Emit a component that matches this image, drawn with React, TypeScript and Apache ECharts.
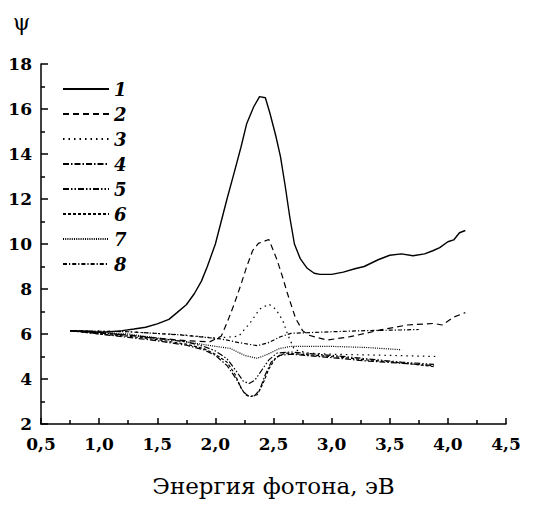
import React, { useEffect, useRef } from "react";
import * as echarts from "echarts";

type Pt = [number, number];

const seriesNames = ["1", "2", "3", "4", "5", "6", "7", "8"];

const curve1: Pt[] = [
  [0.75, 6.15], [0.9, 6.12], [1.0, 6.08], [1.1, 6.1], [1.2, 6.15], [1.3, 6.22], [1.4, 6.3],
  [1.5, 6.45], [1.6, 6.65], [1.67, 6.95], [1.75, 7.3], [1.82, 7.8], [1.88, 8.35], [1.93, 8.99],
  [2.0, 10.0], [2.05, 11.0], [2.1, 12.0], [2.16, 13.14], [2.22, 14.3], [2.27, 15.36],
  [2.33, 16.1], [2.38, 16.55], [2.43, 16.5], [2.47, 15.8], [2.52, 14.8], [2.56, 13.88],
  [2.6, 12.6], [2.64, 11.2], [2.68, 10.0], [2.73, 9.35], [2.79, 8.92], [2.85, 8.7],
  [2.9, 8.65], [3.0, 8.65], [3.1, 8.75], [3.2, 8.9], [3.28, 9.0], [3.4, 9.3], [3.5, 9.5],
  [3.6, 9.56], [3.7, 9.48], [3.8, 9.56], [3.87, 9.7], [3.93, 9.84], [4.0, 10.1],
  [4.05, 10.18], [4.1, 10.5], [4.15, 10.6],
];

const curve2: Pt[] = [
  [0.75, 6.15], [1.0, 6.05], [1.25, 5.95], [1.5, 5.82], [1.75, 5.7], [1.95, 5.65],
  [2.05, 5.9], [2.1, 6.5], [2.16, 7.3], [2.22, 8.2], [2.27, 9.0], [2.32, 9.7], [2.37, 10.03],
  [2.46, 10.2], [2.53, 9.3], [2.58, 8.5], [2.62, 7.8], [2.69, 6.7], [2.75, 6.15],
  [2.8, 5.95], [2.96, 5.73], [3.16, 5.88], [3.42, 6.18], [3.65, 6.4], [3.88, 6.47],
  [3.95, 6.4], [4.05, 6.75], [4.15, 6.95],
];

const curve3: Pt[] = [
  [0.75, 6.15], [1.25, 6.1], [1.75, 5.95], [2.0, 5.82], [2.2, 5.9], [2.3, 6.5],
  [2.38, 7.1], [2.46, 7.33], [2.52, 7.1], [2.58, 6.6], [2.62, 6.0], [2.68, 5.3],
  [2.8, 5.15], [3.0, 5.1], [3.5, 5.05], [3.9, 5.0],
];

const curve4: Pt[] = [
  [0.75, 6.15], [1.0, 6.0], [1.25, 5.85], [1.5, 5.7], [1.75, 5.5], [1.9, 5.3], [2.0, 5.05],
  [2.1, 4.6], [2.18, 4.0], [2.24, 3.45], [2.28, 3.25], [2.33, 3.22], [2.38, 3.5],
  [2.43, 4.2], [2.48, 4.75], [2.55, 5.05], [2.65, 5.1], [3.0, 4.95], [3.3, 4.8],
  [3.6, 4.7], [3.88, 4.6],
];

const curve5: Pt[] = [
  [0.75, 6.15], [1.0, 6.05], [1.25, 5.95], [1.5, 5.8], [1.75, 5.65], [1.9, 5.45], [2.0, 5.25],
  [2.1, 4.9], [2.18, 4.35], [2.24, 3.9], [2.29, 3.8], [2.34, 3.95], [2.4, 4.4],
  [2.46, 4.85], [2.53, 5.15], [2.65, 5.2], [3.0, 5.05], [3.3, 4.9], [3.6, 4.75], [3.88, 4.65],
];

const curve6: Pt[] = [
  [0.75, 6.15], [1.0, 6.0], [1.25, 5.9], [1.5, 5.75], [1.75, 5.55], [1.9, 5.35], [2.0, 5.1],
  [2.1, 4.75], [2.17, 4.2], [2.22, 3.6], [2.26, 3.3], [2.3, 3.22], [2.36, 3.3], [2.41, 3.8],
  [2.46, 4.45], [2.52, 4.95], [2.6, 5.15], [3.0, 5.0], [3.3, 4.85], [3.6, 4.72], [3.88, 4.55],
];

const curve7: Pt[] = [
  [0.75, 6.15], [1.25, 6.0], [1.75, 5.65], [2.0, 5.45], [2.13, 5.36], [2.25, 5.05],
  [2.36, 4.92], [2.45, 5.1], [2.55, 5.35], [2.65, 5.45], [3.0, 5.45], [3.3, 5.4], [3.6, 5.3],
];

const curve8: Pt[] = [
  [0.75, 6.15], [1.25, 6.1], [1.7, 5.96], [2.05, 5.78], [2.2, 5.62], [2.36, 5.48],
  [2.45, 5.6], [2.56, 5.88], [2.65, 6.03], [3.0, 6.1], [3.3, 6.15], [3.6, 6.18], [3.75, 6.2],
];

const curves: Pt[][] = [curve1, curve2, curve3, curve4, curve5, curve6, curve7, curve8];

const dashes: (number[] | "solid")[] = [
  "solid",
  [6, 4],
  [1.5, 4],
  [6, 2, 1.5, 2],
  [6, 2, 1.5, 2, 1.5, 2],
  [3, 2],
  [1, 1.2],
  [4, 2, 1.2, 2],
];

const xTicks = { min: 0.5, max: 4.5, interval: 0.5 };
const yTicks = { min: 2, max: 18, interval: 2 };

const serif = "DejaVu Serif";

export default function App() {
  const ref = useRef<HTMLDivElement>(null);
  useEffect(() => {
    if (!ref.current) return;
    const chart = echarts.init(ref.current, undefined, { renderer: "svg" });
    const fmt = (v: number) => v.toFixed(1).replace(".", ",");
    chart.setOption({
      animation: false,
      backgroundColor: "#ffffff",
      grid: { left: 41, right: 37, top: 64, bottom: 83, containLabel: false },
      legend: {
        orient: "vertical",
        left: 62,
        top: 80,
        padding: 0,
        itemWidth: 46,
        itemHeight: 14,
        itemGap: 7,
        data: seriesNames,
        itemStyle: { color: "rgba(0,0,0,0)", borderColor: "rgba(0,0,0,0)", borderWidth: 0, opacity: 0 },
        textStyle: {
          fontFamily: serif,
          fontStyle: "italic",
          fontWeight: "bold",
          fontSize: 18,
          color: "#000",
        },
      },
      xAxis: {
        type: "value",
        min: xTicks.min,
        max: xTicks.max,
        interval: xTicks.interval,
        name: "Энергия фотона, эВ",
        nameLocation: "middle",
        nameGap: 50,
        nameTextStyle: { fontFamily: serif, fontSize: 23, color: "#000" },
        axisLine: { show: true, lineStyle: { color: "#000", width: 1.5 } },
        axisTick: { show: true, inside: true, length: 6, lineStyle: { color: "#000", width: 1.5 } },
        minorTick: { show: true, splitNumber: 2, length: 4, lineStyle: { color: "#000", width: 1.5 } },
        splitLine: { show: false },
        axisLabel: {
          formatter: fmt,
          fontFamily: serif,
          fontWeight: "bold",
          fontSize: 17,
          color: "#000",
          margin: 11,
        },
      },
      yAxis: {
        type: "value",
        min: yTicks.min,
        max: yTicks.max,
        interval: yTicks.interval,
        axisLine: { show: true, lineStyle: { color: "#000", width: 1.5 } },
        axisTick: { show: true, inside: true, length: 7, lineStyle: { color: "#000", width: 1.5 } },
        minorTick: { show: true, splitNumber: 2, length: 4, lineStyle: { color: "#000", width: 1.5 } },
        splitLine: { show: false },
        axisLabel: {
          fontFamily: serif,
          fontWeight: "bold",
          fontSize: 17,
          color: "#000",
          margin: 9,
        },
      },
      graphic: [
        {
          type: "text",
          left: 13,
          top: 11,
          style: { text: "ψ", font: `22px "${serif}"`, fill: "#000" },
        },
      ],
      series: curves.map((c, i) => ({
        name: seriesNames[i],
        type: "line",
        data: c,
        symbol: "none",
        showSymbol: false,
        smooth: false,
        lineStyle: { color: "#000", width: i === 0 ? 1.4 : 1.2, type: dashes[i] },
        itemStyle: { color: "#000" },
      })),
    });
    return () => chart.dispose();
  }, []);
  return (
    <div
      ref={ref}
      style={{ position: "fixed", left: 0, top: 0, width: 543, height: 507 }}
    />
  );
}
